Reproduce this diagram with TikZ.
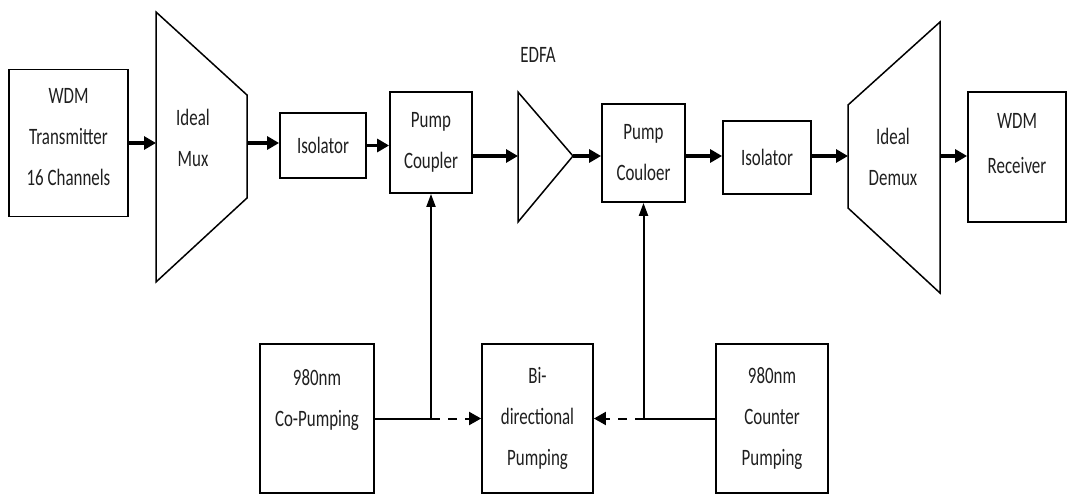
\documentclass[tikz,border=0pt]{standalone}
\usepackage{fontspec}
\setmainfont{Carlito}[FakeStretch=0.72]
\usetikzlibrary{arrows.meta}
\begin{document}
\begin{tikzpicture}[x=1pt,y=-1pt,
  txt/.style={font=\fontsize{23.5}{41}\selectfont, align=center, text=black!88},
  blk/.style={txt, draw, line width=1.8pt, inner sep=0pt},
  shp/.style={line width=1.5pt, line join=miter},
  arr/.style={line width=3.2pt, -{Triangle[length=12pt,width=13pt]}},
  parr/.style={line width=2pt, -{Triangle[length=13pt,width=9pt]}},
  darr/.style={line width=2pt, dash pattern=on 9pt off 8pt, -{Triangle[length=12pt,width=13pt]}}]
\useasboundingbox (0,0) rectangle (1073,495);
% blocks
\node[blk, minimum width=119pt, minimum height=147pt] (tx) at (68.5,143) {WDM\\Transmitter\\16 Channels\rule[-12pt]{0pt}{12pt}};
\node[blk, minimum width=86pt, minimum height=65pt] (iso1) at (323,145.5) {Isolator};
\node[blk, minimum width=82pt, minimum height=101pt] (pc1) at (431,142.5) {Pump\\Coupler};
\node[blk, minimum width=83pt, minimum height=98pt] (pc2) at (643.5,153) {Pump\\Couloer};
\node[blk, minimum width=88pt, minimum height=73pt] (iso2) at (767,157.5) {Isolator};
\node[blk, minimum width=98pt, minimum height=130pt] (rx) at (1017,157) {WDM\\[4pt]Receiver\rule[-28pt]{0pt}{28pt}};
\node[blk, minimum width=114pt, minimum height=149pt] (co) at (317,418.5) {980nm\\Co-Pumping\\\mbox{}};
\node[blk, minimum width=111pt, minimum height=149pt] (bi) at (537.5,418.5) {Bi-\\directional\\Pumping};
\node[blk, minimum width=112pt, minimum height=149pt] (cn) at (772,418.5) {980nm\\Counter\\Pumping};
% mux
\coordinate (m1) at (156,12); \coordinate (m2) at (247,95);
\coordinate (m3) at (247,198); \coordinate (m4) at (156,282);
\draw[shp] (m1) -- (m2) -- (m3) -- (m4) -- cycle;
\node[txt] (mux) at (193,138) {Ideal\\Mux};
\coordinate (muxin) at (156,143); \coordinate (muxout) at (247,143);
% EDFA
\coordinate (e1) at (518,92); \coordinate (e2) at (573,156); \coordinate (e3) at (518,222);
\draw[shp] (e1) -- (e2) -- (e3) -- cycle;
\node[txt] (edfa) at (538,55) {EDFA};
\coordinate (ein) at (518,156);
% demux
\coordinate (d1) at (940,22); \coordinate (d2) at (848,105);
\coordinate (d3) at (848,208); \coordinate (d4) at (940,293);
\draw[shp] (d1) -- (d2) -- (d3) -- (d4) -- cycle;
\node[txt] (demux) at (893,157) {Ideal\\Demux};
\coordinate (din) at (848,156); \coordinate (dout) at (940,156);
% main chain
\draw[arr] (tx.east |- muxin) -- (muxin);
\draw[arr] (muxout) -- (muxout -| iso1.west);
\draw[arr] (iso1.east) -- (iso1.east -| pc1.west);
\draw[arr] (pc1.east |- ein) -- (ein);
\draw[arr] (e2) -- (e2 -| pc2.west);
\draw[arr] (pc2.east |- din) -- (din -| iso2.west);
\draw[arr] (iso2.east |- din) -- (din);
\draw[arr] (dout) -- (dout -| rx.west);
% pumps
\coordinate (j1) at (pc1.south |- co.east);
\coordinate (j2) at (pc2.south |- cn.west);
\draw[parr] (co.east) -- (j1) -- (pc1.south);
\draw[parr] (cn.west) -- (j2) -- (pc2.south);
\draw[darr] (j1) -- (bi.west);
\draw[darr] (j2) -- (bi.east);
\end{tikzpicture}
\end{document}
